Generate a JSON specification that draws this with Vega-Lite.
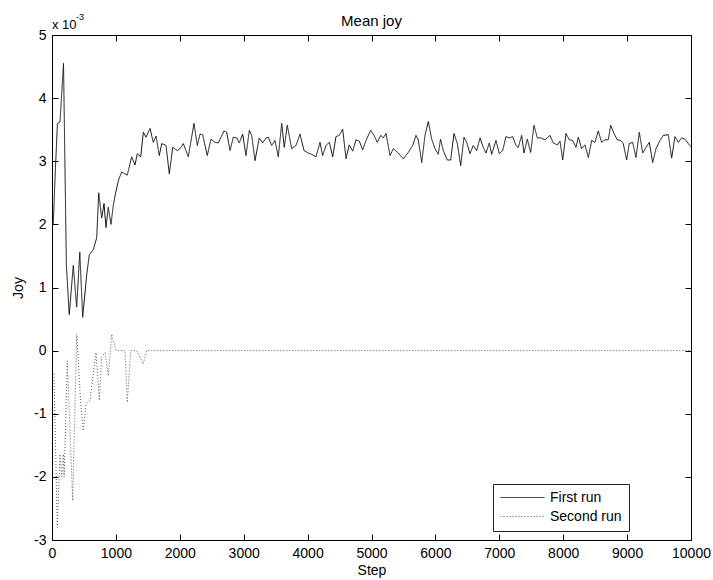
{
  "$schema": "https://vega.github.io/schema/vega-lite/v6.json",
  "width": 639,
  "height": 505,
  "autosize": {"type": "none"},
  "padding": {"left": 52, "top": 35, "right": 22, "bottom": 40},
  "background": "white",
  "title": {"text": "Mean joy", "fontSize": 15, "font": "Liberation Sans", "fontWeight": "normal", "color": "black", "frame": "group", "anchor": "middle", "offset": -6, "dy": 22, "baseline": "alphabetic"},
  "config": {
    "view": {"stroke": null},
    "axis": {"labelFont": "Liberation Sans", "titleFont": "Liberation Sans", "labelFontSize": 14, "titleFontSize": 14, "titleFontWeight": "normal", "labelColor": "black", "titleColor": "black", "domainColor": "black", "tickColor": "black", "grid": false, "domainWidth": 1, "tickWidth": 1, "labelFlush": false, "labelOverlap": false}
  },
  "datasets": {
    "runs": [
      {"run": "First run", "step": 20, "joy": 0.00201},
      {"run": "First run", "step": 50, "joy": 0.0028},
      {"run": "First run", "step": 85, "joy": 0.0036},
      {"run": "First run", "step": 125, "joy": 0.00362},
      {"run": "First run", "step": 180, "joy": 0.00455},
      {"run": "First run", "step": 225, "joy": 0.00135},
      {"run": "First run", "step": 270, "joy": 0.00057},
      {"run": "First run", "step": 333, "joy": 0.00135},
      {"run": "First run", "step": 386, "joy": 0.00069},
      {"run": "First run", "step": 435, "joy": 0.00156},
      {"run": "First run", "step": 480, "joy": 0.00053},
      {"run": "First run", "step": 543, "joy": 0.0012},
      {"run": "First run", "step": 584, "joy": 0.00152},
      {"run": "First run", "step": 646, "joy": 0.0016},
      {"run": "First run", "step": 700, "joy": 0.00179},
      {"run": "First run", "step": 731, "joy": 0.0025},
      {"run": "First run", "step": 778, "joy": 0.0021},
      {"run": "First run", "step": 814, "joy": 0.00233},
      {"run": "First run", "step": 845, "joy": 0.00195},
      {"run": "First run", "step": 881, "joy": 0.00227},
      {"run": "First run", "step": 923, "joy": 0.002},
      {"run": "First run", "step": 959, "joy": 0.0023},
      {"run": "First run", "step": 986, "joy": 0.00245},
      {"run": "First run", "step": 1040, "joy": 0.0027},
      {"run": "First run", "step": 1091, "joy": 0.00283},
      {"run": "First run", "step": 1178, "joy": 0.00278},
      {"run": "First run", "step": 1247, "joy": 0.00307},
      {"run": "First run", "step": 1299, "joy": 0.00294},
      {"run": "First run", "step": 1335, "joy": 0.00312},
      {"run": "First run", "step": 1388, "joy": 0.00307},
      {"run": "First run", "step": 1429, "joy": 0.00346},
      {"run": "First run", "step": 1471, "joy": 0.00338},
      {"run": "First run", "step": 1534, "joy": 0.00352},
      {"run": "First run", "step": 1585, "joy": 0.0033},
      {"run": "First run", "step": 1628, "joy": 0.0034},
      {"run": "First run", "step": 1679, "joy": 0.00309},
      {"run": "First run", "step": 1717, "joy": 0.00328},
      {"run": "First run", "step": 1784, "joy": 0.00325},
      {"run": "First run", "step": 1836, "joy": 0.0028},
      {"run": "First run", "step": 1889, "joy": 0.00322},
      {"run": "First run", "step": 1961, "joy": 0.00317},
      {"run": "First run", "step": 2003, "joy": 0.0032},
      {"run": "First run", "step": 2055, "joy": 0.00328},
      {"run": "First run", "step": 2133, "joy": 0.00307},
      {"run": "First run", "step": 2222, "joy": 0.0036},
      {"run": "First run", "step": 2274, "joy": 0.00325},
      {"run": "First run", "step": 2316, "joy": 0.00343},
      {"run": "First run", "step": 2358, "joy": 0.00342},
      {"run": "First run", "step": 2430, "joy": 0.00309},
      {"run": "First run", "step": 2488, "joy": 0.00335},
      {"run": "First run", "step": 2550, "joy": 0.0033},
      {"run": "First run", "step": 2602, "joy": 0.00329},
      {"run": "First run", "step": 2692, "joy": 0.00348},
      {"run": "First run", "step": 2734, "joy": 0.00346},
      {"run": "First run", "step": 2786, "joy": 0.00317},
      {"run": "First run", "step": 2837, "joy": 0.00338},
      {"run": "First run", "step": 2890, "joy": 0.00337},
      {"run": "First run", "step": 2931, "joy": 0.00329},
      {"run": "First run", "step": 2984, "joy": 0.00343},
      {"run": "First run", "step": 3036, "joy": 0.00309},
      {"run": "First run", "step": 3088, "joy": 0.00349},
      {"run": "First run", "step": 3125, "joy": 0.00341},
      {"run": "First run", "step": 3177, "joy": 0.00301},
      {"run": "First run", "step": 3244, "joy": 0.00337},
      {"run": "First run", "step": 3297, "joy": 0.00329},
      {"run": "First run", "step": 3349, "joy": 0.00337},
      {"run": "First run", "step": 3385, "joy": 0.00338},
      {"run": "First run", "step": 3438, "joy": 0.00325},
      {"run": "First run", "step": 3490, "joy": 0.00333},
      {"run": "First run", "step": 3541, "joy": 0.00307},
      {"run": "First run", "step": 3595, "joy": 0.0036},
      {"run": "First run", "step": 3635, "joy": 0.00322},
      {"run": "First run", "step": 3682, "joy": 0.00357},
      {"run": "First run", "step": 3751, "joy": 0.0032},
      {"run": "First run", "step": 3818, "joy": 0.00325},
      {"run": "First run", "step": 3881, "joy": 0.00343},
      {"run": "First run", "step": 3944, "joy": 0.00317},
      {"run": "First run", "step": 4011, "joy": 0.00313},
      {"run": "First run", "step": 4064, "joy": 0.00311},
      {"run": "First run", "step": 4131, "joy": 0.00307},
      {"run": "First run", "step": 4194, "joy": 0.0033},
      {"run": "First run", "step": 4236, "joy": 0.00309},
      {"run": "First run", "step": 4288, "joy": 0.00325},
      {"run": "First run", "step": 4340, "joy": 0.0033},
      {"run": "First run", "step": 4393, "joy": 0.00307},
      {"run": "First run", "step": 4444, "joy": 0.00339},
      {"run": "First run", "step": 4496, "joy": 0.00341},
      {"run": "First run", "step": 4549, "joy": 0.00351},
      {"run": "First run", "step": 4601, "joy": 0.00304},
      {"run": "First run", "step": 4652, "joy": 0.00326},
      {"run": "First run", "step": 4706, "joy": 0.00316},
      {"run": "First run", "step": 4757, "joy": 0.00334},
      {"run": "First run", "step": 4809, "joy": 0.00332},
      {"run": "First run", "step": 4862, "joy": 0.00318},
      {"run": "First run", "step": 4914, "joy": 0.00333},
      {"run": "First run", "step": 4987, "joy": 0.00349},
      {"run": "First run", "step": 5039, "joy": 0.00341},
      {"run": "First run", "step": 5091, "joy": 0.0033},
      {"run": "First run", "step": 5144, "joy": 0.00341},
      {"run": "First run", "step": 5185, "joy": 0.00337},
      {"run": "First run", "step": 5227, "joy": 0.00344},
      {"run": "First run", "step": 5290, "joy": 0.00309},
      {"run": "First run", "step": 5341, "joy": 0.0032},
      {"run": "First run", "step": 5419, "joy": 0.00313},
      {"run": "First run", "step": 5498, "joy": 0.00304},
      {"run": "First run", "step": 5576, "joy": 0.00314},
      {"run": "First run", "step": 5645, "joy": 0.00325},
      {"run": "First run", "step": 5696, "joy": 0.00341},
      {"run": "First run", "step": 5732, "joy": 0.00334},
      {"run": "First run", "step": 5786, "joy": 0.00298},
      {"run": "First run", "step": 5837, "joy": 0.00341},
      {"run": "First run", "step": 5889, "joy": 0.00363},
      {"run": "First run", "step": 5942, "joy": 0.00335},
      {"run": "First run", "step": 5994, "joy": 0.0032},
      {"run": "First run", "step": 6045, "joy": 0.00311},
      {"run": "First run", "step": 6080, "joy": 0.00335},
      {"run": "First run", "step": 6124, "joy": 0.00317},
      {"run": "First run", "step": 6186, "joy": 0.00302},
      {"run": "First run", "step": 6239, "joy": 0.00302},
      {"run": "First run", "step": 6291, "joy": 0.00344},
      {"run": "First run", "step": 6343, "joy": 0.00328},
      {"run": "First run", "step": 6396, "joy": 0.00293},
      {"run": "First run", "step": 6447, "joy": 0.00338},
      {"run": "First run", "step": 6490, "joy": 0.0033},
      {"run": "First run", "step": 6541, "joy": 0.00312},
      {"run": "First run", "step": 6593, "joy": 0.00325},
      {"run": "First run", "step": 6646, "joy": 0.00317},
      {"run": "First run", "step": 6698, "joy": 0.00337},
      {"run": "First run", "step": 6749, "joy": 0.00322},
      {"run": "First run", "step": 6792, "joy": 0.00313},
      {"run": "First run", "step": 6843, "joy": 0.00329},
      {"run": "First run", "step": 6881, "joy": 0.00311},
      {"run": "First run", "step": 6948, "joy": 0.00333},
      {"run": "First run", "step": 7000, "joy": 0.00312},
      {"run": "First run", "step": 7053, "joy": 0.00317},
      {"run": "First run", "step": 7105, "joy": 0.00339},
      {"run": "First run", "step": 7156, "joy": 0.00337},
      {"run": "First run", "step": 7210, "joy": 0.00339},
      {"run": "First run", "step": 7261, "joy": 0.00325},
      {"run": "First run", "step": 7297, "joy": 0.00322},
      {"run": "First run", "step": 7350, "joy": 0.00341},
      {"run": "First run", "step": 7386, "joy": 0.00313},
      {"run": "First run", "step": 7438, "joy": 0.00335},
      {"run": "First run", "step": 7491, "joy": 0.00314},
      {"run": "First run", "step": 7543, "joy": 0.00357},
      {"run": "First run", "step": 7595, "joy": 0.00337},
      {"run": "First run", "step": 7648, "joy": 0.00337},
      {"run": "First run", "step": 7715, "joy": 0.00334},
      {"run": "First run", "step": 7793, "joy": 0.00341},
      {"run": "First run", "step": 7845, "joy": 0.00329},
      {"run": "First run", "step": 7908, "joy": 0.00326},
      {"run": "First run", "step": 7950, "joy": 0.00332},
      {"run": "First run", "step": 7992, "joy": 0.00302},
      {"run": "First run", "step": 8044, "joy": 0.00344},
      {"run": "First run", "step": 8095, "joy": 0.00334},
      {"run": "First run", "step": 8148, "joy": 0.00333},
      {"run": "First run", "step": 8200, "joy": 0.00322},
      {"run": "First run", "step": 8236, "joy": 0.00338},
      {"run": "First run", "step": 8289, "joy": 0.0032},
      {"run": "First run", "step": 8341, "joy": 0.00326},
      {"run": "First run", "step": 8393, "joy": 0.00306},
      {"run": "First run", "step": 8446, "joy": 0.00333},
      {"run": "First run", "step": 8497, "joy": 0.0033},
      {"run": "First run", "step": 8549, "joy": 0.00348},
      {"run": "First run", "step": 8602, "joy": 0.0033},
      {"run": "First run", "step": 8654, "joy": 0.00334},
      {"run": "First run", "step": 8706, "joy": 0.00334},
      {"run": "First run", "step": 8743, "joy": 0.00357},
      {"run": "First run", "step": 8795, "joy": 0.00344},
      {"run": "First run", "step": 8846, "joy": 0.00334},
      {"run": "First run", "step": 8900, "joy": 0.00333},
      {"run": "First run", "step": 8940, "joy": 0.00328},
      {"run": "First run", "step": 8993, "joy": 0.00302},
      {"run": "First run", "step": 9034, "joy": 0.00328},
      {"run": "First run", "step": 9087, "joy": 0.0033},
      {"run": "First run", "step": 9139, "joy": 0.00306},
      {"run": "First run", "step": 9191, "joy": 0.00346},
      {"run": "First run", "step": 9244, "joy": 0.00313},
      {"run": "First run", "step": 9296, "joy": 0.00322},
      {"run": "First run", "step": 9347, "joy": 0.0033},
      {"run": "First run", "step": 9401, "joy": 0.00298},
      {"run": "First run", "step": 9452, "joy": 0.0032},
      {"run": "First run", "step": 9515, "joy": 0.00333},
      {"run": "First run", "step": 9566, "joy": 0.00341},
      {"run": "First run", "step": 9645, "joy": 0.00342},
      {"run": "First run", "step": 9697, "joy": 0.00305},
      {"run": "First run", "step": 9749, "joy": 0.00339},
      {"run": "First run", "step": 9801, "joy": 0.0033},
      {"run": "First run", "step": 9854, "joy": 0.00337},
      {"run": "First run", "step": 9906, "joy": 0.00335},
      {"run": "First run", "step": 9958, "joy": 0.00328},
      {"run": "First run", "step": 10000, "joy": 0.00323},
      {"run": "Second run", "step": 31, "joy": -0.00037},
      {"run": "Second run", "step": 83, "joy": -0.0028},
      {"run": "Second run", "step": 125, "joy": -0.00164},
      {"run": "Second run", "step": 152, "joy": -0.002},
      {"run": "Second run", "step": 177, "joy": -0.00164},
      {"run": "Second run", "step": 190, "joy": -0.002},
      {"run": "Second run", "step": 239, "joy": -0.00016},
      {"run": "Second run", "step": 324, "joy": -0.00238},
      {"run": "Second run", "step": 387, "joy": 0.00026},
      {"run": "Second run", "step": 449, "joy": -0.00084},
      {"run": "Second run", "step": 490, "joy": -0.00127},
      {"run": "Second run", "step": 532, "joy": -0.00084},
      {"run": "Second run", "step": 595, "joy": -0.00079},
      {"run": "Second run", "step": 689, "joy": -0.00003},
      {"run": "Second run", "step": 740, "joy": -0.00079},
      {"run": "Second run", "step": 778, "joy": -0.0001},
      {"run": "Second run", "step": 829, "joy": -0.00003},
      {"run": "Second run", "step": 881, "joy": -0.0004},
      {"run": "Second run", "step": 934, "joy": 0.00026},
      {"run": "Second run", "step": 1002, "joy": 0},
      {"run": "Second run", "step": 1142, "joy": 0},
      {"run": "Second run", "step": 1178, "joy": -0.00082},
      {"run": "Second run", "step": 1232, "joy": 0},
      {"run": "Second run", "step": 1325, "joy": 0},
      {"run": "Second run", "step": 1429, "joy": -0.00021},
      {"run": "Second run", "step": 1482, "joy": 0},
      {"run": "Second run", "step": 10000, "joy": 0}
    ],
    "scaleNote": [{"base": "x 10", "exp": "-3"}]
  },
  "layer": [
    {
      "data": {"name": "runs"},
      "mark": {"type": "line", "strokeWidth": 1, "clip": true},
      "encoding": {
        "x": {"field": "step", "type": "quantitative", "scale": {"domain": [0, 10000], "nice": false},
              "axis": {"orient": "bottom", "title": "Step", "values": [0, 1000, 2000, 3000, 4000, 5000, 6000, 7000, 8000, 9000, 10000], "format": "d", "tickSize": -6, "labelPadding": 12, "titlePadding": 3}},
        "y": {"field": "joy", "type": "quantitative", "scale": {"domain": [-0.003, 0.005], "nice": false, "zero": false},
              "axis": {"orient": "left", "title": "Joy", "values": [-0.003, -0.002, -0.001, 0, 0.001, 0.002, 0.003, 0.004, 0.005], "labelExpr": "'' + round(datum.value * 1000)", "tickSize": -6, "labelPadding": 12, "titlePadding": 8}},
        "color": {"field": "run", "type": "nominal",
              "scale": {"domain": ["First run", "Second run"], "range": ["#111111", "#555555"]},
              "legend": {"orient": "none", "legendX": 441, "legendY": 449, "title": null, "symbolType": "stroke", "symbolSize": 1936, "symbolStrokeWidth": 1, "labelFontSize": 14, "labelFont": "Liberation Sans", "labelColor": "black", "strokeColor": "#222222", "fillColor": "white", "padding": 7, "labelOffset": 5, "rowPadding": 4, "clipHeight": 13}},
        "strokeDash": {"field": "run", "type": "nominal",
              "scale": {"domain": ["First run", "Second run"], "range": [[1, 0], [1, 2]]},
              "legend": {"orient": "none", "legendX": 441, "legendY": 449, "title": null, "symbolType": "stroke", "symbolSize": 1936, "symbolStrokeWidth": 1, "labelFontSize": 14, "labelFont": "Liberation Sans", "labelColor": "black", "strokeColor": "#222222", "fillColor": "white", "padding": 7, "labelOffset": 5, "rowPadding": 4, "clipHeight": 13}}
      }
    },
    {
      "data": {"name": "runs"},
      "mark": {"type": "line", "strokeOpacity": 0},
      "encoding": {
        "x": {"field": "step", "type": "quantitative", "scale": {"domain": [0, 10000], "nice": false},
              "axis": {"orient": "top", "title": null, "labels": false, "values": [0, 1000, 2000, 3000, 4000, 5000, 6000, 7000, 8000, 9000, 10000], "tickSize": -6}},
        "y": {"field": "joy", "type": "quantitative", "scale": {"domain": [-0.003, 0.005], "nice": false, "zero": false},
              "axis": {"orient": "right", "title": null, "labels": false, "values": [-0.003, -0.002, -0.001, 0, 0.001, 0.002, 0.003, 0.004, 0.005], "tickSize": -6}}
      }
    },
    {
      "data": {"name": "scaleNote"},
      "mark": {"type": "text", "align": "left", "baseline": "alphabetic", "font": "Liberation Sans", "fontSize": 13, "color": "black", "dy": -6, "dx": 0},
      "encoding": {
        "x": {"datum": 0, "type": "quantitative", "axis": null},
        "y": {"datum": 0.005, "type": "quantitative", "axis": null},
        "text": {"field": "base"}
      }
    },
    {
      "data": {"name": "scaleNote"},
      "mark": {"type": "text", "align": "left", "baseline": "alphabetic", "font": "Liberation Sans", "fontSize": 9, "color": "black", "dy": -15, "dx": 24},
      "encoding": {
        "x": {"datum": 0, "type": "quantitative", "axis": null},
        "y": {"datum": 0.005, "type": "quantitative", "axis": null},
        "text": {"field": "exp"}
      }
    }
  ],
  "resolve": {"axis": {"x": "independent", "y": "independent"}}
}
